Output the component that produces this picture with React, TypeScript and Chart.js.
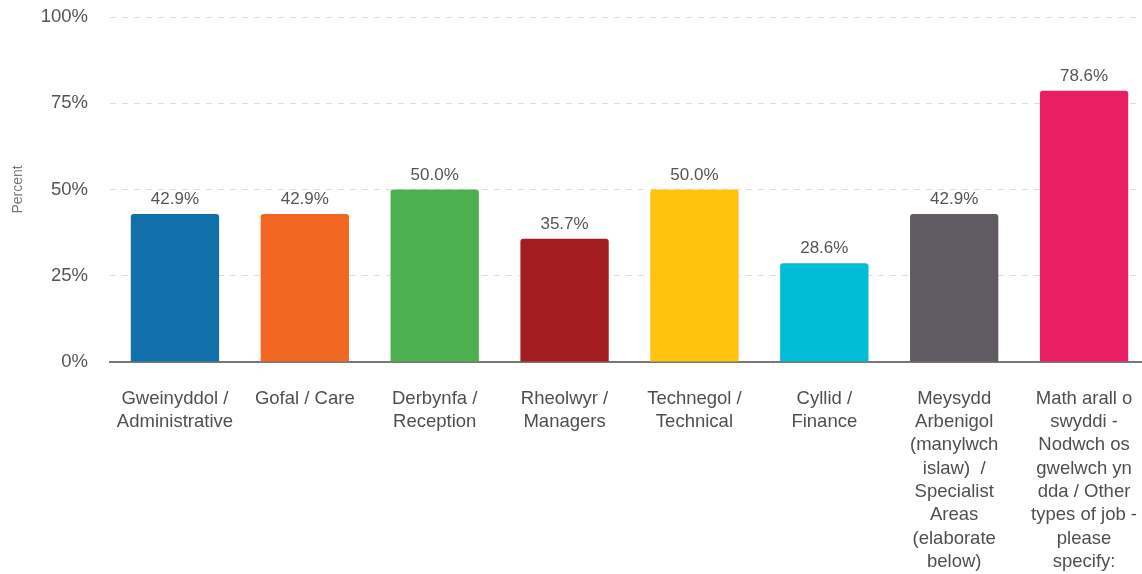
import React, { useEffect, useRef } from "react";
import { Chart, registerables } from "chart.js";

Chart.register(...registerables);

const categories: string[][] = [
  ["Gweinyddol /", "Administrative"],
  ["Gofal / Care"],
  ["Derbynfa /", "Reception"],
  ["Rheolwyr /", "Managers"],
  ["Technegol /", "Technical"],
  ["Cyllid /", "Finance"],
  ["Meysydd", "Arbenigol", "(manylwch", "islaw)  /", "Specialist", "Areas", "(elaborate", "below)"],
  ["Math arall o", "swyddi -", "Nodwch os", "gwelwch yn", "dda / Other", "types of job -", "please", "specify:"],
];
const values: number[] = [42.9, 42.9, 50.0, 35.7, 50.0, 28.6, 42.9, 78.6];
const colors: string[] = [
  "#1170aa",
  "#f26722",
  "#4caf50",
  "#a31c1f",
  "#ffc20e",
  "#00bcd4",
  "#605b62",
  "#e91e63",
];
const yTicks: number[] = [0, 25, 50, 75, 100];

const FONT = "'Liberation Sans', Arial, sans-serif";

const valueLabels = {
  id: "valueLabels",
  afterDatasetsDraw(chart: any) {
    const ctx = chart.ctx;
    const meta = chart.getDatasetMeta(0);
    ctx.save();
    ctx.font = `17px ${FONT}`;
    ctx.fillStyle = "#555";
    ctx.textAlign = "center";
    ctx.textBaseline = "alphabetic";
    meta.data.forEach((el: any, i: number) => {
      ctx.fillText(values[i].toFixed(1) + "%", el.x, el.y - 10);
    });
    ctx.restore();
  },
};

export default function App() {
  const ref = useRef<HTMLCanvasElement>(null);
  useEffect(() => {
    if (!ref.current) return;
    const chart = new Chart(ref.current, {
      type: "bar",
      data: {
        labels: categories,
        datasets: [
          {
            data: values,
            backgroundColor: colors,
            borderRadius: { topLeft: 3, topRight: 3 },
            borderSkipped: "bottom",
            barPercentage: 0.68,
            categoryPercentage: 1,
          },
        ],
      },
      options: {
        animation: false,
        responsive: false,
        maintainAspectRatio: false,
        layout: { padding: { top: 17, right: 3, bottom: 0, left: 0 } },
        plugins: {
          legend: { display: false },
          tooltip: { enabled: false },
        },
        scales: {
          x: {
            grid: { display: false, drawTicks: false },
            border: { display: true, color: "#777", width: 2 },
            ticks: {
              padding: 25,
              color: "#4f4f4f",
              font: { family: FONT, size: 18.5, lineHeight: "23.3px" },
              maxRotation: 0,
              autoSkip: false,
            },
            afterFit: (s: any) => {
              s.height = 212;
              s.paddingLeft = 0;
              s.paddingRight = 0;
            },
          },
          y: {
            min: 0,
            max: 100,
            afterBuildTicks: (s: any) => {
              s.ticks = yTicks.map((v) => ({ value: v }));
            },
            grid: {
              drawTicks: false,
              color: (c: any) => (c.tick && c.tick.value === 0 ? "rgba(0,0,0,0)" : "#dcdcdc"),
              lineWidth: 1,
            },
            border: { display: false, dash: [6, 6] },
            ticks: {
              padding: 22,
              color: "#555",
              font: { family: FONT, size: 18.5 },
              callback: (v: any) => v + "%",
            },
            title: {
              display: true,
              text: "Percent",
              color: "#777",
              font: { family: FONT, size: 14 },
              padding: { top: 10, bottom: 0 },
            },
            afterFit: (s: any) => {
              s.width = 110;
              s.paddingTop = 0;
              s.paddingBottom = 0;
            },
          },
        },
      },
      plugins: [valueLabels],
    });
    return () => chart.destroy();
  }, []);
  return (
    <div style={{ position: "absolute", left: 0, top: 0, width: 1142, height: 574, overflow: "hidden", background: "#fff" }}>
      <canvas ref={ref} width={1152} height={574} style={{ width: 1152, height: 574, display: "block" }} />
    </div>
  );
}
